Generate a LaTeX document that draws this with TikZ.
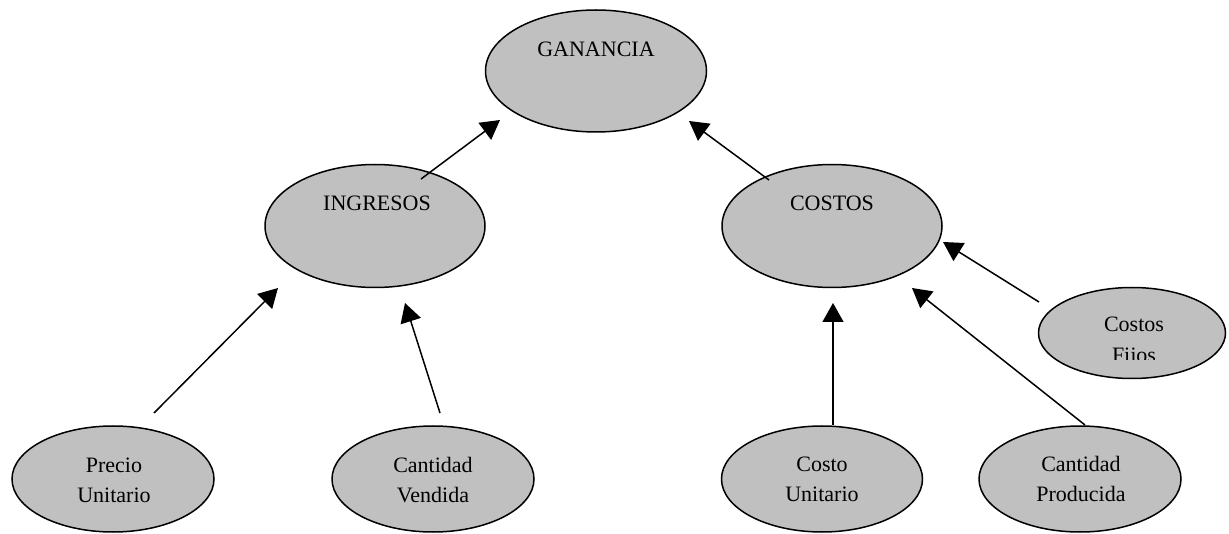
\documentclass[tikz,border=0pt]{standalone}
\usepackage{fontspec}
\setmainfont{Liberation Serif}
\usetikzlibrary{arrows.meta,shapes.geometric}
\definecolor{nodegray}{RGB}{192,192,192}
\begin{document}
\begin{tikzpicture}[x=1pt,y=-1pt,
  ell/.style={draw=black,fill=nodegray,ellipse,line width=1.5pt,inner sep=0pt},
  lbl/.style={font=\fontsize{22}{30}\selectfont,anchor=base,inner sep=0pt,text=black},
  arr/.style={line width=1.5pt,-{Triangle[length=19pt,width=21pt]}}]
\useasboundingbox (0,0) rectangle (1229,534);
% ellipses
\node[ell,minimum width=221pt,minimum height=122pt] (gan) at (596,71) {};
\node[ell,minimum width=220pt,minimum height=123pt] (ing) at (375,226) {};
\node[ell,minimum width=220pt,minimum height=123pt] (cos) at (832,226) {};
\node[ell,minimum width=202pt,minimum height=106pt] (pu) at (113,479) {};
\node[ell,minimum width=202pt,minimum height=106pt] (cv) at (433,479) {};
\node[ell,minimum width=201pt,minimum height=106pt] (cu) at (822,479) {};
\node[ell,minimum width=202pt,minimum height=106pt] (cp) at (1080,479) {};
\node[ell,minimum width=187pt,minimum height=91pt] (cf) at (1132,333) {};
% labels
\node[lbl] (gan-t) at (596,57) {GANANCIA};
\node[lbl] (ing-t) at (377,211) {INGRESOS};
\node[lbl] (cos-t) at (832,211) {COSTOS};
\node[lbl] (pu-t1) at (114,472) {Precio};
\node[lbl] (pu-t2) at (114,502) {Unitario};
\node[lbl] (cv-t1) at (433,472) {Cantidad};
\node[lbl] (cv-t2) at (433,502) {Vendida};
\node[lbl] (cu-t1) at (822,471) {Costo};
\node[lbl] (cu-t2) at (822,501) {Unitario};
\node[lbl] (cp-t1) at (1081,471) {Cantidad};
\node[lbl] (cp-t2) at (1081,501) {Producida};
\node[lbl] (cf-t1) at (1134,332) {Costos};
\begin{scope}
  \clip (1045,340) rectangle (1220,360);
  \node[lbl] (cf-t2) at (1134,363) {Fijos};
\end{scope}
% connector end points
\coordinate (ing-s) at (421,179);
\coordinate (gan-l) at (500,120);
\coordinate (cos-s) at (769,180);
\coordinate (gan-r) at (689,121);
\coordinate (pu-s) at (154,413);
\coordinate (ing-l) at (278,288);
\coordinate (cv-s) at (440,413);
\coordinate (ing-r) at (405,303);
\coordinate (cu-s) at (833,425);
\coordinate (cos-b) at (833,303);
\coordinate (cp-s) at (1085,425);
\coordinate (cos-br) at (912,288);
\coordinate (cf-s) at (1039,302);
\coordinate (cos-r) at (943,242);
% connectors
\draw[arr] (ing-s) -- (gan-l);
\draw[arr] (cos-s) -- (gan-r);
\draw[arr] (pu-s) -- (ing-l);
\draw[arr] (cv-s) -- (ing-r);
\draw[arr] (cu-s) -- (cos-b);
\draw[arr] (cp-s) -- (cos-br);
\draw[arr] (cf-s) -- (cos-r);
\end{tikzpicture}
\end{document}
